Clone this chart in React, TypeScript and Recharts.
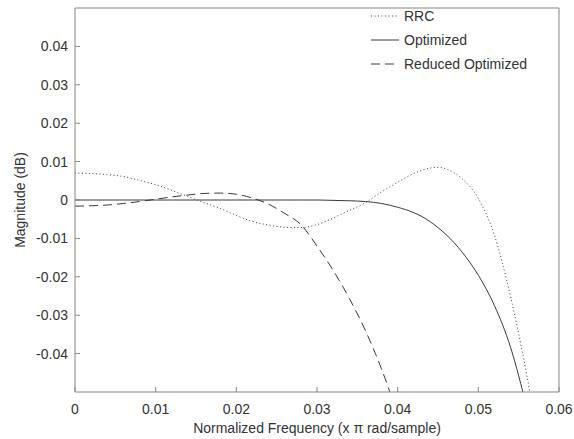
import { LineChart, Line, XAxis, YAxis, Legend } from "recharts";

const freq = [
  0, 0.002, 0.004, 0.006, 0.008, 0.01, 0.012, 0.014, 0.016, 0.018, 0.02, 0.022,
  0.024, 0.026, 0.028, 0.03, 0.032, 0.034, 0.036, 0.038, 0.04, 0.042, 0.044,
  0.045, 0.046, 0.048, 0.05, 0.052, 0.054, 0.056, 0.058,
];
const rrc = [
  0.007, 0.0069, 0.0066, 0.0061, 0.0051, 0.004, 0.0025, 0.0009, -0.0007,
  -0.0022, -0.004, -0.0056, -0.0065, -0.0071, -0.0072, -0.0064, -0.0047,
  -0.0027, -0.0007, 0.0021, 0.0046, 0.0069, 0.0083, 0.0085, 0.0081, 0.0055,
  0.0004, -0.0092, -0.0252, -0.0455, -0.07,
];
const optimized = [
  0, 0, 0, 0, 0, 0, 0, 0, 0, 0, 0, 0, 0, 0, 0, 0, -0.0001, -0.0002, -0.0004,
  -0.0009, -0.0019, -0.0033, -0.0056, -0.0072, -0.009, -0.0136, -0.0196,
  -0.0275, -0.0384, -0.054, -0.072,
];
const reducedOptimized = [
  -0.0016, -0.0015, -0.0013, -0.0009, -0.0004, 0.0002, 0.0008, 0.0013, 0.0017,
  0.0018, 0.0015, 0.0005, -0.0011, -0.0035, -0.0064, -0.012, -0.0183, -0.0256,
  -0.034, -0.044, -0.056, null, null, null, null, null, null, null, null, null,
  null,
];
const seriesNames = ["RRC", "Optimized", "Reduced Optimized"];
const xTicks = [0, 0.01, 0.02, 0.03, 0.04, 0.05, 0.06];
const yTicks = [-0.04, -0.03, -0.02, -0.01, 0, 0.01, 0.02, 0.03, 0.04];

const data = freq.map((f, i) => ({
  f,
  rrc: rrc[i],
  opt: optimized[i],
  red: reducedOptimized[i],
}));

const FONT = '"Liberation Sans", Arial, Helvetica, sans-serif';
const AXIS = "#858585";
const TEXT = "#333333";
const LINE = "#3a3a3a";

const dashes: Record<string, string | undefined> = {
  RRC: "1 2.5",
  Optimized: undefined,
  "Reduced Optimized": "9 5",
};

const fmt = (v: number) => (v === 0 ? "0" : v.toFixed(2));

// legend keeps the series order, not the alphabetical one
const renderLegend = () => (
  <svg width={190} height={72}>
    {seriesNames.map((name, i) => (
      <g key={name} transform={`translate(0, ${10 + i * 24})`}>
        <line x1={0} x2={28} y1={0} y2={0} stroke={LINE} strokeDasharray={dashes[name]} />
        <text x={33} y={0} dy="0.35em" fontSize={14} fontFamily={FONT} fill={TEXT}>
          {name}
        </text>
      </g>
    ))}
  </svg>
);

const YLabel = ({ viewBox }: any) => {
  const x = viewBox.x + 20;
  const y = viewBox.y + viewBox.height / 2;
  return (
    <text x={x} y={y} transform={`rotate(-90, ${x}, ${y})`} textAnchor="middle" dominantBaseline="central" fontSize={14} fontFamily={FONT} fill={TEXT}>
      Magnitude (dB)
    </text>
  );
};

const XLabel = ({ viewBox }: any) => (
  <text x={viewBox.x + viewBox.width / 2} y={viewBox.y + 41} textAnchor="middle" fontSize={14} fontFamily={FONT} fill={TEXT}>
    Normalized Frequency (x π rad/sample)
  </text>
);

export default function App() {
  const tickStyle = { fontSize: 14, fontFamily: FONT, fill: TEXT };
  return (
    <div style={{ position: "absolute", left: 0, top: 0 }}>
      <LineChart width={574} height={439} data={data} margin={{ top: 7, right: 14, bottom: 0, left: 0 }}>
        <XAxis
          dataKey="f"
          type="number"
          domain={[0, 0.06]}
          ticks={xTicks}
          tickFormatter={fmt}
          allowDataOverflow
          height={47}
          stroke={AXIS}
          tickSize={-5}
          tickMargin={17}
          tick={tickStyle}
          label={<XLabel />}
        />
        <XAxis
          xAxisId="top"
          orientation="top"
          dataKey="f"
          type="number"
          domain={[0, 0.06]}
          ticks={xTicks}
          allowDataOverflow
          height={1}
          stroke={AXIS}
          tickSize={-5}
          tick={false}
        />
        <YAxis
          type="number"
          domain={[-0.05, 0.05]}
          ticks={yTicks}
          tickFormatter={fmt}
          allowDataOverflow
          width={75}
          stroke={AXIS}
          tickSize={-5}
          tickMargin={12}
          tick={tickStyle}
          label={<YLabel />}
        />
        <YAxis
          yAxisId="right"
          orientation="right"
          type="number"
          domain={[-0.05, 0.05]}
          ticks={yTicks}
          allowDataOverflow
          width={1}
          stroke={AXIS}
          tickSize={-5}
          tick={false}
        />
        <Legend
          layout="vertical"
          align="center"
          verticalAlign="middle"
          content={renderLegend}
          wrapperStyle={{ top: 6, left: 371, width: 190, height: 72 }}
        />
        <Line name="RRC" dataKey="rrc" type="monotone" stroke={LINE} strokeWidth={1} strokeDasharray="1 2.5" dot={false} isAnimationActive={false} />
        <Line name="Optimized" dataKey="opt" type="monotone" stroke={LINE} strokeWidth={1} dot={false} isAnimationActive={false} />
        <Line name="Reduced Optimized" dataKey="red" type="monotone" stroke={LINE} strokeWidth={1} strokeDasharray="9 5" dot={false} isAnimationActive={false} />
      </LineChart>
    </div>
  );
}
